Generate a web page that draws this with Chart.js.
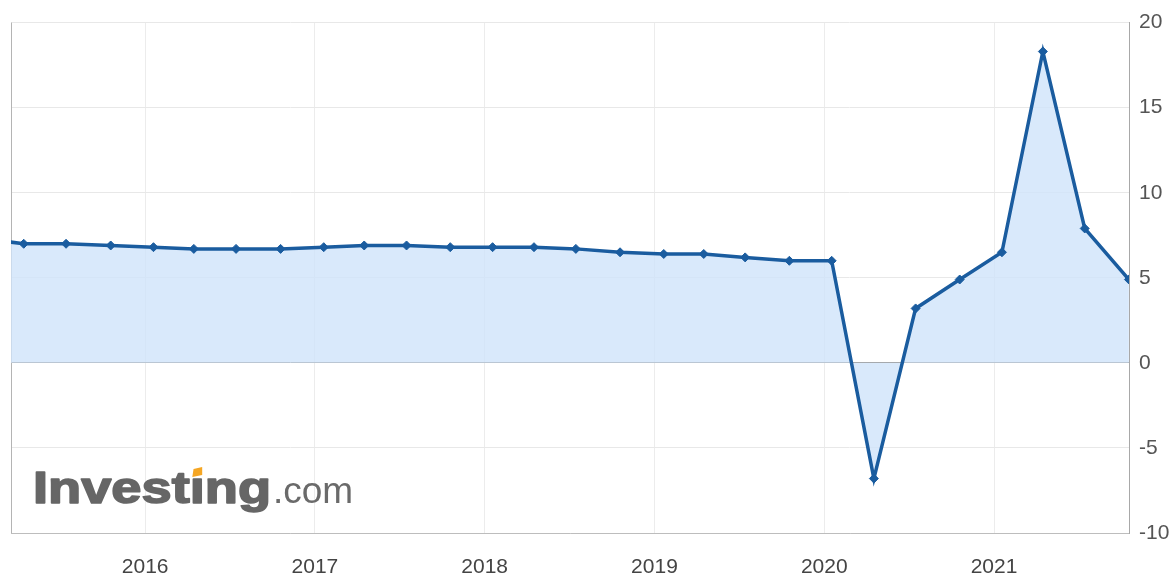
<!DOCTYPE html>
<html>
<head>
<meta charset="utf-8">
<script src="https://cdn.jsdelivr.net/npm/chart.js@4/dist/chart.umd.min.js"></script>
<style>
  html, body { margin: 0; padding: 0; background: #fff; }
  #wrap { width: 1173px; height: 574px; }
</style>
</head>
<body>
<div id="wrap"><canvas id="gdpChart"></canvas></div>
<script>
// release dates of each quarterly GDP print (YoY %)
const releaseDates = [
    '2015-01-20', '2015-04-15', '2015-07-15', '2015-10-19',
    '2016-01-19', '2016-04-15', '2016-07-15', '2016-10-19',
    '2017-01-20', '2017-04-17', '2017-07-17', '2017-10-19',
    '2018-01-18', '2018-04-17', '2018-07-16', '2018-10-19',
    '2019-01-21', '2019-04-17', '2019-07-15', '2019-10-18',
    '2020-01-17', '2020-04-17', '2020-07-16', '2020-10-19',
    '2021-01-18', '2021-04-16', '2021-07-15', '2021-10-18'
];
const gdpValues = [
    7.3, 7.0, 7.0, 6.9,
    6.8, 6.7, 6.7, 6.7,
    6.8, 6.9, 6.9, 6.8,
    6.8, 6.8, 6.7, 6.5,
    6.4, 6.4, 6.2, 6.0,
    6.0, -6.8, 3.2, 4.9,
    6.5, 18.3, 7.9, 4.9
];
const yearTicks = [2016, 2017, 2018, 2019, 2020, 2021];
const yTicks = [-10, -5, 0, 5, 10, 15, 20];

// date string -> fractional year for the linear x scale
function toYear(s) {
    const d = new Date(s + 'T00:00:00Z');
    const y = d.getUTCFullYear();
    const start = Date.UTC(y, 0, 1);
    const end = Date.UTC(y + 1, 0, 1);
    return y + (d.getTime() - start) / (end - start);
}

const points = releaseDates.map((d, i) => ({ x: toYear(d), y: gdpValues[i] }));

const FONT = '"Liberation Sans", Arial, sans-serif';

// left frame line + Investing.com watermark
const decorations = {
    id: 'decorations',
    beforeDatasetsDraw(chart) {
        const ctx = chart.ctx;
        const area = chart.chartArea;

        ctx.save();
        ctx.strokeStyle = '#b4b4b4';
        ctx.lineWidth = 1;
        ctx.beginPath();
        ctx.moveTo(area.left + 0.5, area.top);
        ctx.lineTo(area.left + 0.5, area.bottom);
        ctx.stroke();
        ctx.restore();

        // watermark
        ctx.save();
        const baseX = 33, baseY = 503;
        ctx.font = 'bold 44px ' + FONT;
        ctx.textBaseline = 'alphabetic';
        const fullW = ctx.measureText('Investing').width;
        const sx = 238 / fullW;
        ctx.translate(baseX, baseY);
        ctx.scale(sx, 1);
        ctx.fillStyle = '#666666';
        ctx.strokeStyle = '#666666';
        ctx.lineWidth = 1.6;
        ctx.lineJoin = 'round';
        const part1 = 'Invest';
        const w1 = ctx.measureText(part1).width;
        const wi = ctx.measureText('\u0131').width;
        ctx.fillText(part1, 0, 0);
        ctx.strokeText(part1, 0, 0);
        ctx.fillText('\u0131', w1, 0);
        ctx.strokeText('\u0131', w1, 0);
        ctx.fillText('ng', w1 + wi, 0);
        ctx.strokeText('ng', w1 + wi, 0);
        // orange tittle
        ctx.fillStyle = '#f5a623';
        const cx = w1 + wi / 2;
        ctx.beginPath();
        ctx.moveTo(cx - 4, -26);
        ctx.lineTo(cx + 4, -28);
        ctx.lineTo(cx + 4, -36);
        ctx.lineTo(cx - 3, -34);
        ctx.closePath();
        ctx.fill();
        ctx.restore();

        ctx.save();
        ctx.font = '37px ' + FONT;
        ctx.fillStyle = '#6a6a6a';
        ctx.textBaseline = 'alphabetic';
        ctx.fillText('.com', 273, 503);
        ctx.restore();
    }
};

const ctx = document.getElementById('gdpChart').getContext('2d');
new Chart(ctx, {
    type: 'line',
    data: {
        datasets: [{
            data: points,
            borderColor: '#1a5c9f',
            backgroundColor: 'rgba(208, 228, 250, 0.8)',
            borderWidth: 3.5,
            fill: 'origin',
            tension: 0,
            pointStyle: 'rectRot',
            pointRadius: 4.5,
            pointBackgroundColor: '#1a5c9f',
            pointBorderColor: '#1a5c9f',
            pointBorderWidth: 1
        }]
    },
    options: {
        responsive: true,
        maintainAspectRatio: false,
        animation: false,
        layout: { padding: { left: 11, top: 21, right: 0, bottom: 0 } },
        plugins: {
            legend: { display: false },
            tooltip: { enabled: false }
        },
        scales: {
            x: {
                type: 'linear',
                min: 2015.21,
                max: 2021.795,
                afterBuildTicks: scale => {
                    scale.ticks = yearTicks.map(v => ({ value: v }));
                },
                afterFit: scale => { scale.height = 41; },
                grid: { color: '#ececec', drawTicks: false },
                border: { display: true, color: '#bdbdbd' },
                ticks: {
                    padding: 22,
                    color: '#444',
                    font: { family: FONT, size: 21 },
                    autoSkip: false,
                    maxRotation: 0,
                    callback: v => String(v)
                }
            },
            y: {
                position: 'right',
                min: -10,
                max: 20,
                afterBuildTicks: scale => {
                    scale.ticks = yTicks.map(v => ({ value: v }));
                },
                afterFit: scale => { scale.width = 44; },
                grid: {
                    drawTicks: false,
                    color: c => c.tick && c.tick.value === 0 ? '#9a9a9a' : '#e8e8e8'
                },
                border: { display: true, color: '#a8a8a8' },
                ticks: {
                    padding: 10,
                    color: '#555',
                    font: { family: FONT, size: 21 }
                }
            }
        }
    },
    plugins: [decorations]
});
</script>
</body>
</html>
